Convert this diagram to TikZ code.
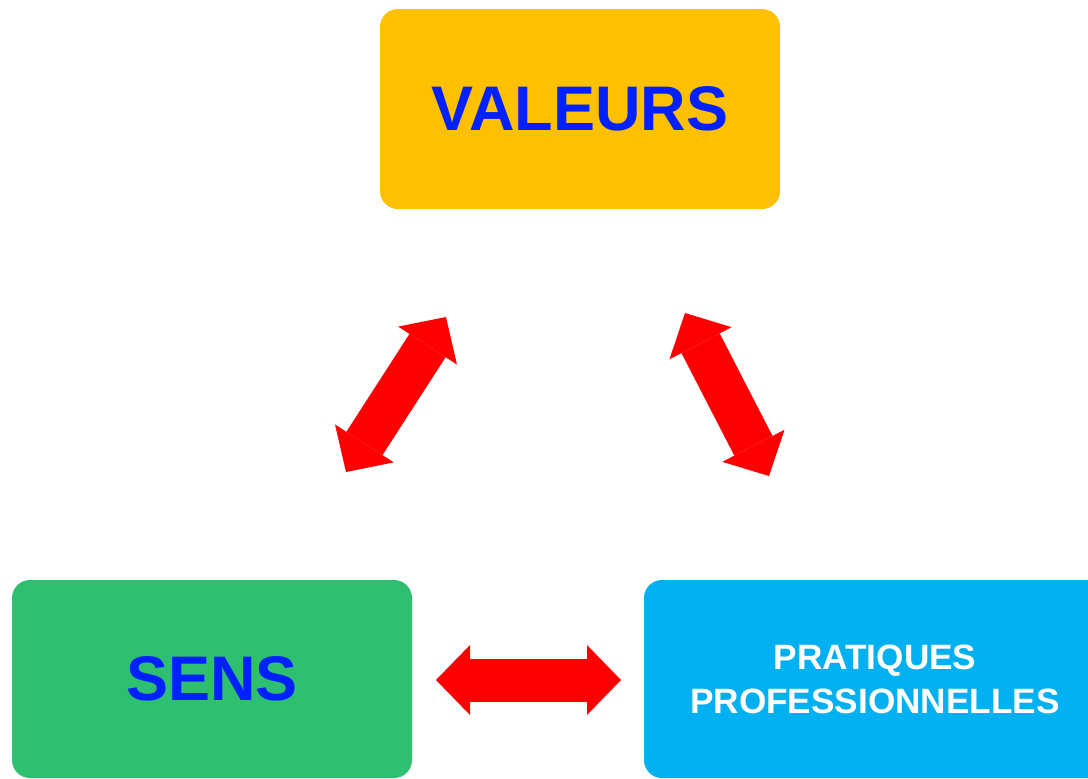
\documentclass[tikz,border=0pt]{standalone}
\usepackage{fontspec}
\setmainfont{Liberation Sans}
\usetikzlibrary{arrows.meta}
\definecolor{jaune}{HTML}{FFC000}
\definecolor{vert}{HTML}{2FBF71}
\definecolor{cyan}{HTML}{00B0F0}
\definecolor{bleu}{HTML}{0020FF}
\definecolor{rouge}{HTML}{FF0000}
\tikzset{
  boite/.style={rounded corners=9pt,inner sep=0pt,font=\bfseries,align=center},
  fleche/.style={rouge,line width=21.5pt,
    {Triangle[length=17pt,width=35pt,line width=0pt 0]}-{Triangle[length=17pt,width=35pt,line width=0pt 0]}}
}
\begin{document}
\begin{tikzpicture}[x=0.5pt,y=-0.5pt]
  \useasboundingbox (0,0) rectangle (1088,778);
  \node[boite,fill=jaune,text=bleu,minimum width=200pt,minimum height=100pt,
    font=\fontsize{31.5}{36}\bfseries] (valeurs) at (580,109) {VALEURS};
  \node[boite,fill=vert,text=bleu,minimum width=200pt,minimum height=99pt,
    font=\fontsize{31.5}{36}\bfseries] (sens) at (212,679) {SENS};
  \node[boite,fill=cyan,text=white,minimum width=231pt,minimum height=99pt,
    font=\fontsize{17.6}{22}\bfseries] (pratiques) at (875,679) {PRATIQUES\\PROFESSIONNELLES};
  \coordinate (sv1) at (346,472);
  \coordinate (sv2) at (446,317);
  \coordinate (vp1) at (685,313);
  \coordinate (vp2) at (769,476);
  \coordinate (sp1) at (436,680);
  \coordinate (sp2) at (621,680);
  \draw[fleche] (sv1) -- (sv2);
  \draw[fleche] (vp1) -- (vp2);
  \draw[fleche] (sp1) -- (sp2);
\end{tikzpicture}
\end{document}
